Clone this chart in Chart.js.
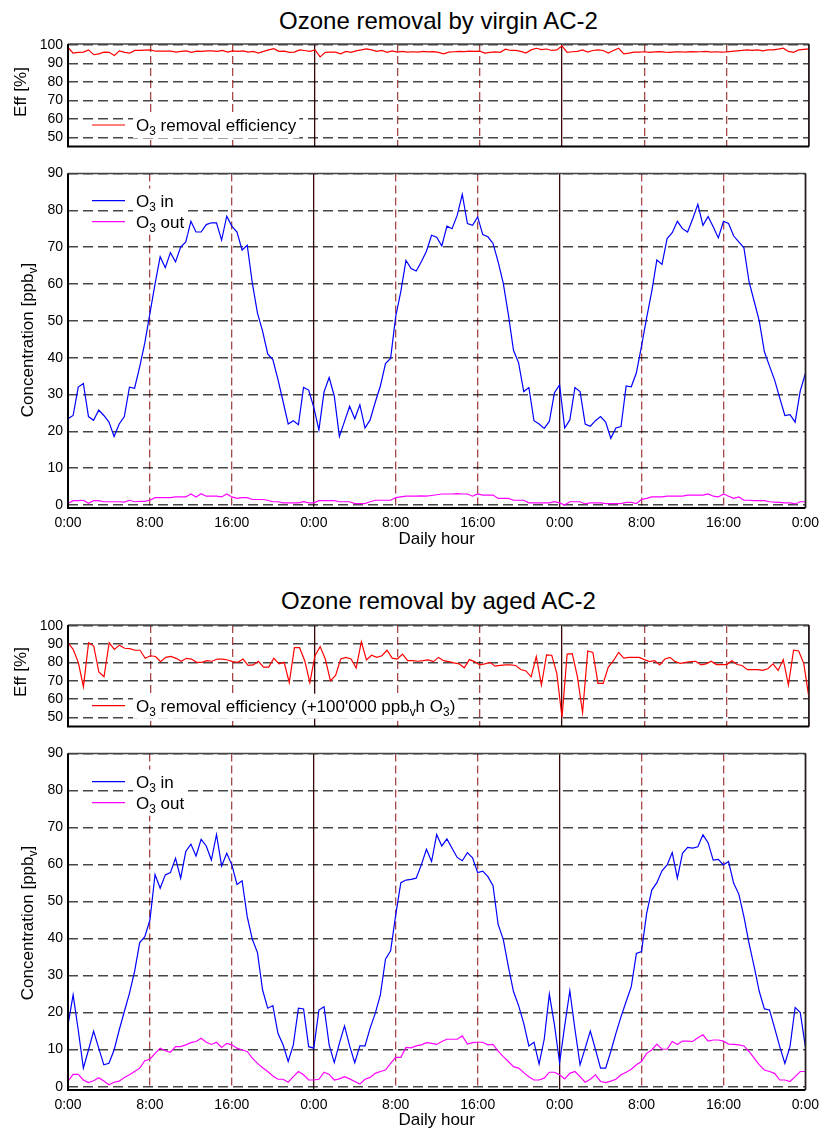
<!DOCTYPE html>
<html>
<head>
<meta charset="utf-8">
<script src="https://cdn.jsdelivr.net/npm/chart.js@4.4.1/dist/chart.umd.min.js"></script>
<style>
  body { margin: 0; background: #fff; }
  #page { position: relative; width: 826px; height: 1133px; overflow: hidden; }
  canvas { position: absolute; left: 0; }
  .title { position: absolute; left: 68px; width: 741px; text-align: center;
           font: 24px/24px 'Liberation Sans', Arial, sans-serif; color: #000; }
</style>
</head>
<body>
<div id="page">
  <div class="title" style="top:9px">Ozone removal by virgin AC-2</div>
  <canvas id="effVirgin" width="826" height="160" style="top:0px"></canvas>
  <canvas id="concVirgin" width="826" height="390" style="top:160px"></canvas>
  <div class="title" style="top:589px">Ozone removal by aged AC-2</div>
  <canvas id="effAged" width="826" height="160" style="top:580px"></canvas>
  <canvas id="concAged" width="826" height="393" style="top:740px"></canvas>
</div>
<script>
const FONT = "'Liberation Sans', Arial, Helvetica, sans-serif";
Chart.defaults.font.family = FONT;
Chart.defaults.color = '#000';

// half-hourly samples over three days
const hours = Array.from({length: 145}, (_, i) => i / 2);

// virgin AC-2
const virginEff = [
  98.6,95.6,96.0,96.1,97.3,94.7,95.2,96.1,96.0,94.3,96.8,96.0,95.6,97.0,97.0,97.2,
  97.3,96.6,96.6,96.6,96.6,96.1,96.5,96.8,96.0,96.6,96.5,96.8,96.8,96.5,97.0,96.1,
  96.8,96.5,96.8,96.1,96.5,95.6,96.5,97.3,98.0,96.5,96.6,96.0,96.1,97.3,97.0,96.5,
  97.3,93.5,96.0,96.1,96.1,95.2,96.5,96.0,96.8,97.3,97.9,97.3,96.5,97.0,96.0,96.8,
  96.1,96.5,96.1,96.3,96.1,96.5,96.2,96.4,96.0,95.2,96.1,96.3,96.5,96.4,96.6,96.5,
  96.6,95.6,96.0,96.2,96.0,97.7,97.0,97.0,96.5,95.6,97.3,98.2,97.5,97.8,97.0,97.3,
  99.5,96.0,96.3,96.5,97.3,96.1,97.0,97.3,97.0,95.6,97.0,98.2,95.2,95.6,96.1,96.1,
  96.3,96.0,96.2,96.4,96.1,96.0,96.2,96.3,96.1,96.4,96.2,96.3,96.5,96.1,96.3,96.1,
  96.2,96.5,96.8,97.0,97.3,97.0,97.3,96.8,97.3,97.3,97.7,98.2,96.5,96.0,97.3,97.6,
  97.9
];
const virginIn = [
  23.4,24.3,32.0,33.0,24.0,23.0,25.8,24.3,22.5,18.6,22.0,24.0,32.0,31.7,37.5,44.0,
  52.0,60.0,67.4,64.4,68.5,66.0,70.0,71.4,77.0,74.1,74.1,76.1,76.6,76.6,71.9,78.4,
  75.7,74.1,69.2,70.5,60.2,52.1,47.2,41.0,39.5,34.1,28.1,22.0,22.9,21.8,31.9,31.2,
  26.5,20.4,30.7,34.6,29.6,18.6,22.7,26.8,23.4,27.2,20.9,23.1,27.9,32.3,38.4,39.8,
  51.2,58.0,66.4,64.2,63.5,66.0,68.9,73.2,72.7,70.3,75.7,75.0,78.6,84.3,76.4,75.9,
  78.2,73.4,72.8,71.0,66.0,60.2,51.7,42.0,38.6,30.8,31.9,22.9,22.0,20.8,22.7,30.5,
  32.6,20.9,23.1,31.9,30.8,22.0,21.4,22.9,24.0,22.5,18.1,20.9,21.3,32.3,32.1,35.9,
  43.1,50.8,58.0,66.5,65.3,72.3,73.9,77.0,75.0,74.1,77.7,81.6,75.9,78.3,75.5,72.5,
  77.0,76.4,73.0,71.4,69.8,60.6,55.3,49.9,41.6,37.7,33.9,29.0,24.3,24.5,22.5,31.0,
  35.7
];
const virginOut = [
  0.4,1.2,1.2,1.3,0.5,1.2,1.2,0.9,0.9,0.9,0.9,0.8,1.3,0.9,1.0,1.0,
  1.3,2.0,2.0,2.0,2.0,2.2,2.2,2.2,3.0,2.2,3.1,2.4,2.4,2.4,2.2,3.0,
  2.2,1.8,2.0,2.0,1.5,1.5,1.5,1.3,0.9,0.9,0.6,0.6,0.6,0.6,0.9,0.6,
  0.6,1.2,1.2,1.2,1.2,0.9,0.9,0.9,0.4,0.4,0.4,0.9,1.3,1.3,1.3,1.3,
  2.0,2.2,2.4,2.4,2.4,2.5,2.4,2.6,2.8,3.0,3.0,3.0,3.1,3.0,3.0,2.4,
  3.0,2.7,2.7,2.7,1.8,1.8,1.8,1.3,1.3,1.3,0.6,0.6,0.6,0.6,0.6,0.9,
  0.6,0.0,0.9,0.9,0.9,0.3,0.6,0.6,0.6,0.4,0.4,0.4,0.4,0.7,0.7,0.4,
  1.5,1.8,2.2,2.2,2.2,2.4,2.4,2.4,2.4,2.7,2.7,2.7,2.7,3.0,2.4,2.2,
  3.0,2.4,1.8,2.2,1.3,1.3,1.2,1.2,1.2,0.9,0.8,0.7,0.6,0.6,0.3,0.9,
  0.9
];

// aged AC-2
const agedEff = [
  90.8,87.2,80.1,66.8,90.8,89.0,74.8,72.2,90.8,87.2,89.5,87.8,87.6,86.7,86.7,82.3,
  83.7,83.3,80.5,82.8,83.3,82.3,80.7,82.3,81.9,80.1,80.1,81.0,80.7,81.9,81.9,81.4,
  80.5,80.1,81.9,78.4,78.7,80.7,77.5,77.5,82.3,79.3,80.1,69.0,88.1,88.1,81.0,69.0,
  83.7,88.7,81.9,70.0,73.0,81.9,82.8,81.9,77.0,91.3,81.4,84.0,82.8,83.7,86.7,82.4,
  81.9,84.6,81.0,81.0,80.7,81.0,81.4,80.5,82.8,81.0,80.5,79.8,79.3,77.1,81.6,80.5,
  78.7,79.3,80.1,78.0,78.4,78.7,78.7,78.4,76.2,75.4,72.2,83.3,67.7,84.2,84.0,73.9,
  50.0,84.6,84.9,72.2,52.7,86.3,85.5,68.6,68.6,77.5,81.0,85.5,82.4,82.8,82.8,82.8,
  81.6,80.5,81.0,78.7,81.9,82.8,80.5,79.6,80.1,80.5,80.7,78.7,79.3,80.7,78.9,78.9,
  78.9,81.0,78.9,78.4,76.1,76.1,76.1,75.7,76.6,79.3,75.7,81.6,67.7,86.7,86.3,79.3,
  60.6
];
const agedIn = [
  16.7,24.8,15.3,5.0,9.9,15.0,10.4,5.9,6.3,9.9,15.3,20.3,25.2,31.1,38.9,40.5,
  45.0,57.3,53.6,57.2,57.8,61.7,56.3,63.5,65.5,62.3,66.8,65.0,61.2,68.1,59.6,63.0,
  59.9,54.6,55.6,45.9,39.8,36.2,26.1,21.2,21.9,14.4,11.3,6.8,11.3,21.2,21.0,10.8,
  10.4,20.7,21.6,11.3,6.5,11.7,16.4,11.0,6.5,11.0,11.0,15.8,19.8,24.8,34.4,36.7,
  46.4,55.1,55.8,56.0,56.3,59.9,64.1,60.8,68.1,65.0,66.9,64.4,61.9,61.0,63.2,61.8,
  57.8,58.2,56.7,54.3,43.8,39.8,32.4,25.7,21.9,17.1,11.0,12.0,6.1,12.8,25.0,16.7,
  6.5,16.4,25.9,15.5,5.9,10.4,15.0,10.1,5.0,5.0,9.5,14.4,18.9,23.0,27.0,36.0,
  36.5,46.8,53.1,55.1,58.3,59.9,63.2,56.3,63.0,64.6,64.4,64.8,68.0,65.9,61.2,61.4,
  59.9,60.8,54.9,52.0,45.9,38.7,32.4,25.7,21.0,20.7,15.8,10.8,6.3,10.8,21.4,20.0,
  10.8
];
const agedOut = [
  1.5,3.3,3.3,1.8,1.1,1.6,2.4,1.5,0.5,1.2,1.5,2.5,3.2,4.1,5.0,7.0,
  7.4,9.0,10.4,9.7,9.3,10.8,10.8,11.3,11.9,12.2,13.1,12.0,11.4,12.0,10.6,11.7,
  11.3,10.4,9.9,9.5,7.7,6.3,5.1,4.1,2.9,2.0,2.0,1.2,2.7,4.1,3.2,1.8,
  1.8,2.0,3.9,3.3,1.8,2.1,2.7,2.1,1.4,0.7,2.0,2.5,3.6,4.1,4.5,6.3,
  7.9,7.9,10.6,10.5,11.0,11.3,11.9,11.7,11.4,12.2,12.8,12.8,12.8,13.7,11.5,11.9,
  12.0,12.0,11.3,11.4,9.6,8.1,6.8,5.4,5.0,3.8,2.7,1.8,1.8,2.3,3.9,3.9,
  3.2,2.1,3.6,4.1,2.7,1.2,2.0,3.2,1.4,1.1,1.5,2.0,3.2,3.9,4.7,5.9,
  6.8,9.0,9.9,11.5,10.1,10.1,12.2,11.4,12.3,12.3,12.2,13.2,14.0,12.3,12.6,12.6,
  12.3,11.5,11.4,11.3,11.0,9.5,7.7,5.9,4.5,4.1,3.6,1.8,1.8,1.4,2.7,4.1,
  4.1
];

// text with subscripts: parts = [[text, isSub], ...]
function richWidth(ctx, parts, size) {
  let w = 0;
  parts.forEach(p => {
    ctx.font = (p[1] ? size * 0.7 : size) + 'px ' + FONT;
    w += ctx.measureText(p[0]).width;
  });
  return w;
}
function drawRich(ctx, parts, x, y, size) {
  const base = y + size * 0.36;
  parts.forEach(p => {
    ctx.font = (p[1] ? size * 0.7 : size) + 'px ' + FONT;
    ctx.fillText(p[0], x, p[1] ? base + size * 0.25 : base);
    x += ctx.measureText(p[0]).width;
  });
}

const decor = {
  id: 'decor',
  afterDatasetsDraw(chart, args, opts) {
    const ctx = chart.ctx;
    ctx.save();
    ctx.textAlign = 'left';
    ctx.textBaseline = 'alphabetic';
    const items = opts.items;
    const tx = 136;
    const maxW = Math.max(...items.map(it => richWidth(ctx, it.parts, 17)));
    const y0 = items[0].y - 12, y1 = items[items.length - 1].y + 13;
    ctx.fillStyle = '#fff';
    ctx.fillRect(tx - 3, y0, maxW + 6, y1 - y0);
    items.forEach(it => {
      ctx.strokeStyle = chart.data.datasets[it.ds].borderColor;
      ctx.lineWidth = 1.2;
      ctx.beginPath();
      ctx.moveTo(92, it.y);
      ctx.lineTo(125, it.y);
      ctx.stroke();
      ctx.fillStyle = '#000';
      drawRich(ctx, it.parts, tx, it.y, 17);
    });
    ctx.restore();
  },
  afterDraw(chart, args, opts) {
    const ctx = chart.ctx;
    const a = chart.chartArea;
    ctx.save();
    // frame
    ctx.lineWidth = 1.5;
    ctx.strokeStyle = '#444';
    ctx.beginPath(); ctx.moveTo(a.left, a.top); ctx.lineTo(a.right, a.top); ctx.stroke();
    ctx.strokeStyle = '#222';
    ctx.beginPath(); ctx.moveTo(a.right, a.top); ctx.lineTo(a.right, a.bottom); ctx.stroke();
    ctx.lineWidth = 2;
    ctx.strokeStyle = '#000';
    ctx.beginPath(); ctx.moveTo(a.left, a.top); ctx.lineTo(a.left, a.bottom); ctx.lineTo(a.right, a.bottom); ctx.stroke();
    // y title
    const t = opts.yTitle;
    ctx.translate(t.x, t.y);
    ctx.rotate(-Math.PI / 2);
    ctx.fillStyle = '#000';
    ctx.textAlign = 'left';
    ctx.textBaseline = 'alphabetic';
    drawRich(ctx, t.parts, -richWidth(ctx, t.parts, 17) / 2, 0, 17);
    ctx.restore();
  }
};

function xAxis(showTicks, height, titlePad) {
  return {
    type: 'linear', min: 0, max: 72,
    afterFit: s => { s.height = height; },
    ticks: {
      display: showTicks, stepSize: 8, autoSkip: false, maxRotation: 0,
      includeBounds: false, padding: 7, font: { size: 14 },
      callback: v => (v % 24) + ':00'
    },
    grid: {
      drawTicks: false, lineWidth: 1.3,
      color: c => (c.tick && c.tick.value % 24 === 0) ? '#3a0808' : 'rgba(150,40,40,0.85)'
    },
    border: {
      display: false,
      dash: c => (c.tick && c.tick.value % 24 === 0) ? [] : [8, 4]
    },
    title: { display: showTicks, text: 'Daily hour', font: { size: 17 }, padding: { top: 0, bottom: titlePad } }
  };
}

function yAxis(min, max) {
  return {
    min: min, max: max,
    afterFit: s => { s.width = 68; },
    ticks: { stepSize: 10, includeBounds: false, padding: 5, font: { size: 14 } },
    grid: { drawTicks: false, color: 'rgba(0,0,0,0.72)', lineWidth: 1.5 },
    border: { display: false, dash: [10, 5] }
  };
}

function line(label, values, color) {
  return { label: label, data: values, borderColor: color, backgroundColor: color,
           borderWidth: 1.2, pointRadius: 0, tension: 0, fill: false };
}

function makeChart(id, datasets, x, y, padding, decorOpts) {
  return new Chart(document.getElementById(id), {
    type: 'line',
    data: { labels: hours, datasets: datasets },
    options: {
      responsive: false,
      animation: false,
      layout: { padding: padding },
      scales: { x: x, y: y },
      plugins: { legend: { display: false }, tooltip: { enabled: false }, decor: decorOpts }
    },
    plugins: [decor]
  });
}

const O3 = [['O'], ['3', true]];
const effTitle = [['Eff [%]']];
const concTitle = [['Concentration [ppb'], ['v', true], [']']];

makeChart('effVirgin',
  [line('O3 removal efficiency', virginEff, '#ff0000')],
  xAxis(false, 0, 0), yAxis(45, 100.5),
  { left: 0, right: 17, top: 44, bottom: 12 },
  { items: [{ ds: 0, y: 125, parts: O3.concat([[' removal efficiency']]) }],
    yTitle: { x: 20, y: 92, parts: effTitle } });

makeChart('concVirgin',
  [line('O3 in', virginIn, '#0000ff'), line('O3 out', virginOut, '#ff00ff')],
  xAxis(true, 42, 0), yAxis(-0.8, 90),
  { left: 0, right: 17, top: 11.5, bottom: 0 },
  { items: [{ ds: 0, y: 40.7, parts: O3.concat([[' in']]) },
            { ds: 1, y: 61.7, parts: O3.concat([[' out']]) }],
    yTitle: { x: 27, y: 180, parts: concTitle } });

makeChart('effAged',
  [line('O3 removal efficiency', agedEff, '#ff0000')],
  xAxis(false, 0, 0), yAxis(45, 100.5),
  { left: 0, right: 17, top: 45, bottom: 10 },
  { items: [{ ds: 0, y: 125.7, parts: O3.concat([[" removal efficiency (+100'000 ppb"], ['v', true], ['h O'], ['3', true], [')']]) }],
    yTitle: { x: 20, y: 92, parts: effTitle } });

makeChart('concAged',
  [line('O3 in', agedIn, '#0000ff'), line('O3 out', agedOut, '#ff00ff')],
  xAxis(true, 42, 1), yAxis(-0.9, 90),
  { left: 0, right: 17, top: 13, bottom: 1 },
  { items: [{ ds: 0, y: 41.7, parts: O3.concat([[' in']]) },
            { ds: 1, y: 62.7, parts: O3.concat([[' out']]) }],
    yTitle: { x: 27, y: 183, parts: concTitle } });
</script>
</body>
</html>
